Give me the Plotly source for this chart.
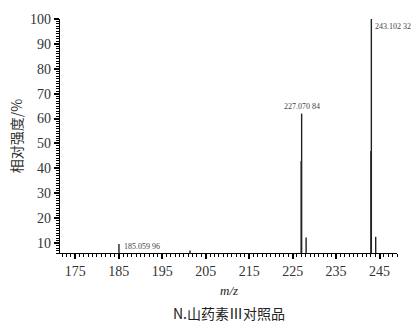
import plotly.graph_objects as go

# m/z peaks and relative intensities (%)
mz = [185.06, 201.4, 226.96, 227.07, 228.1, 243.0, 243.10, 244.1]
intensity = [9.6, 7.0, 43.0, 62.0, 12.2, 47.0, 100.0, 12.5]

# labelled peaks
label_mz = [185.06, 227.07, 243.10]
label_int = [9.6, 62.0, 100.0]
label_text = ["185.059 96", "227.070 84", "243.102 32"]

# axis tick layout: first major tick and spacing
x_tick_start, x_tick_step = 175, 10
y_tick_start, y_tick_step = 10, 10

serif = "Liberation Serif, DejaVu Serif, serif"
cjk = "Noto Sans CJK SC, sans-serif"
ink = "black"
label_ink = "#444444"

xs, ys = [], []
for m, v in zip(mz, intensity):
    xs += [m, m, None]
    ys += [0, v, None]

fig = go.Figure()
fig.add_trace(go.Scatter(x=xs, y=ys, mode="lines",
                         line=dict(color="#222222", width=1.4),
                         hoverinfo="skip", showlegend=False))

placement = {
    "243.102 32": dict(xanchor="left", yanchor="top", xshift=2, yshift=-1),
    "227.070 84": dict(xanchor="center", yanchor="bottom", xshift=0, yshift=1),
    "185.059 96": dict(xanchor="left", yanchor="middle", xshift=3, yshift=-2),
}
for m, v, t in zip(label_mz, label_int, label_text):
    fig.add_annotation(x=m, y=v, text=t, showarrow=False,
                       font=dict(family=serif, size=8, color=label_ink),
                       **placement[t])

fig.add_annotation(x=0.5, y=-0.16, xref="paper", yref="paper",
                   text="<i>m/z</i>", showarrow=False, yanchor="middle",
                   font=dict(family=serif, size=13, color="#222222"))
fig.add_annotation(x=0.5, y=-0.256, xref="paper", yref="paper",
                   text="N.山药素Ⅲ对照品", showarrow=False, yanchor="middle",
                   font=dict(family=cjk, size=14, color="#222222"))

fig.update_xaxes(range=[171.5, 249], tick0=x_tick_start, dtick=x_tick_step,
                 showline=True, linecolor=ink, linewidth=1.3,
                 ticks="outside", ticklen=5, tickwidth=1.5, tickcolor=ink,
                 minor=dict(dtick=1, ticks="outside", ticklen=3,
                            tickwidth=1, tickcolor=ink),
                 tickfont=dict(family=serif, size=14, color="#333333"))
fig.update_yaxes(range=[6, 100], tick0=y_tick_start, dtick=y_tick_step,
                 showline=True, linecolor=ink, linewidth=1.3,
                 ticks="outside", ticklen=5, tickwidth=1.5, tickcolor=ink,
                 minor=dict(dtick=1, ticks="outside", ticklen=3,
                            tickwidth=1, tickcolor=ink),
                 tickfont=dict(family=serif, size=14, color="#333333"),
                 title=dict(text="相对强度/%", standoff=4,
                            font=dict(family=cjk, size=14, color="#333333")))

fig.update_layout(template="simple_white", width=420, height=325,
                  margin=dict(l=60, r=23, t=19, b=72))

fig.write_html("out.html")
